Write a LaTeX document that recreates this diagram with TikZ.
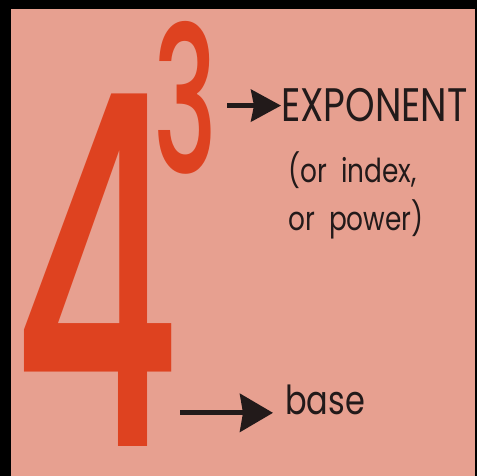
\documentclass[tikz,border=0pt]{standalone}
\usepackage{fontspec}
\usepackage{graphicx}
\usetikzlibrary{arrows.meta,positioning}
\newfontfamily\labfont[FakeStretch=0.8]{Poppins}
\newfontfamily\digfont{Poppins Medium}
\definecolor{bgSalmon}{RGB}{231,160,144}
\definecolor{digRed}{RGB}{222,66,32}
\definecolor{inkCol}{RGB}{34,26,26}
\tikzset{
  digit/.style={inner sep=0,text=digRed,font=\digfont},
  lab/.style={inner sep=0,text=inkCol,align=left},
  pointer/.style={-{Stealth[length=30pt,width=32pt,inset=3pt]},line width=4.5pt,draw=inkCol},
}

\begin{document}
\begin{tikzpicture}[x=1pt,y=1pt]
    \fill[black] (0,0) rectangle (477,476);
    \fill[bgSalmon] (11,0) rectangle (475,467);
    \useasboundingbox (0,0) rectangle (477,476);
    % --- the power: 4 cubed ---
    \node[digit,anchor=south west] (four) at (12,29) {\resizebox{168pt}{352pt}{4}};
    \node[digit,anchor=south west] (three) at (153,301) {\resizebox{64pt}{152pt}{3}};
    % --- labels on the right ---
    \node[lab,font=\labfont\fontsize{47}{47}\selectfont,anchor=base west] (expo) at (281,354) {EXPONENT};
    \node[lab,font=\labfont\fontsize{33}{48}\selectfont,below=29pt of expo.south west,
          anchor=north west,xshift=7pt] (note) {(or\ \ index,\\or\ \ power)};
    \node[lab,font=\labfont\fontsize{40}{40}\selectfont,anchor=base west] (base) at (285,61) {base};
    % --- pointers ---
    \draw[pointer,shorten <=10pt] (three.east |- expo.west) -- (expo.west);
    \draw[pointer,line width=5pt,-{Stealth[length=33pt,width=38pt,inset=3pt]},shorten >=12pt]
      (four.east |- base.mid west) -- (base.mid west);
\end{tikzpicture}
\end{document}
